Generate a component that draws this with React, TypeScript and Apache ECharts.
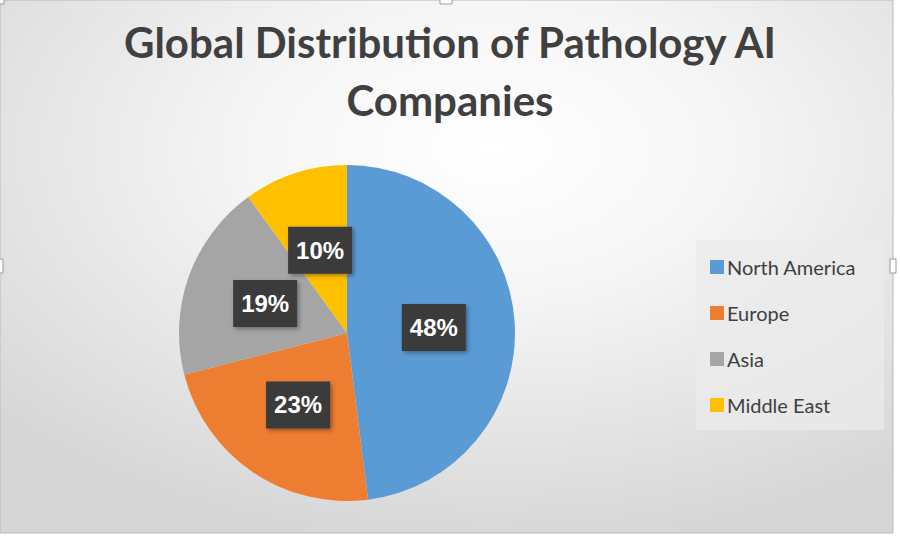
import React, { useEffect, useRef } from "react";
import * as echarts from "echarts";

const titleText = "Global Distribution of Pathology AI\nCompanies";
const categories = ["North America", "Europe", "Asia", "Middle East"];
const values = [48, 23, 19, 10];
const colors = ["#5B9BD5", "#ED7D31", "#A5A5A5", "#FFC000"];

export default function App() {
  const ref = useRef<HTMLDivElement>(null);
  useEffect(() => {
    document.body.style.margin = "0";
    const chart = echarts.init(ref.current!, null, { renderer: "svg" });
    const handle = (x: number, y: number, w: number, h: number) => ({
      type: "rect",
      shape: { x, y, width: w, height: h },
      style: { fill: "#ffffff", stroke: "#9a9a9a", lineWidth: 1 },
      z: 10,
    });
    chart.setOption({
      animation: false,
      graphic: [
        {
          type: "rect",
          z: -10,
          shape: { x: 0, y: 0, width: 893, height: 533 },
          style: {
            fill: new echarts.graphic.RadialGradient(0.55, 0.28, 0.75, [
              { offset: 0, color: "#ffffff" },
              { offset: 0.35, color: "#f6f6f6" },
              { offset: 1, color: "#d6d6d6" },
            ]),
            stroke: "#b9b9b9",
            lineWidth: 1,
          },
        },
        {
          type: "rect",
          z: -5,
          shape: { x: 696, y: 240, width: 188, height: 190 },
          style: { fill: "rgba(235,235,235,0.75)" },
        },
        handle(-2, -2, 6, 6),
        handle(440, -2, 12, 6),
        handle(-3, 259, 6, 14),
        handle(890, 259, 6, 14),
      ],
      title: {
        text: titleText,
        left: "center",
        top: 8,
        textStyle: {
          fontFamily: "Lato",
          fontWeight: "bold",
          fontSize: 42,
          lineHeight: 58,
          color: "#404040",
        },
      },
      legend: {
        orient: "vertical",
        left: 705,
        top: 252,
        itemWidth: 14,
        itemHeight: 14,
        itemGap: 26,
        icon: "rect",
        data: categories,
        textStyle: {
          fontFamily: "Lato",
          fontSize: 20,
          color: "#404040",
          padding: [0, 0, 0, -2],
        },
      },
      series: [
        {
          type: "pie",
          center: [347, 333],
          radius: 168,
          startAngle: 90,
          clockwise: true,
          data: categories.map((c, i) => ({
            name: c,
            value: values[i],
            itemStyle: { color: colors[i] },
          })),
          label: {
            show: true,
            position: "inside",
            formatter: (p: any) => p.value + "%",
            fontFamily: "Liberation Sans",
            fontWeight: "bold",
            fontSize: 24,
            color: "#ffffff",
            backgroundColor: "#3b3b3b",
            padding: [12, 8, 11, 8],
            shadowColor: "rgba(0,0,0,0.35)",
            shadowBlur: 4,
            shadowOffsetX: 2,
            shadowOffsetY: 2,
          },
          labelLine: { show: false },
          emphasis: { disabled: true },
        },
      ],
    });
    return () => chart.dispose();
  }, []);
  return <div ref={ref} style={{ width: 900, height: 536 }} />;
}
